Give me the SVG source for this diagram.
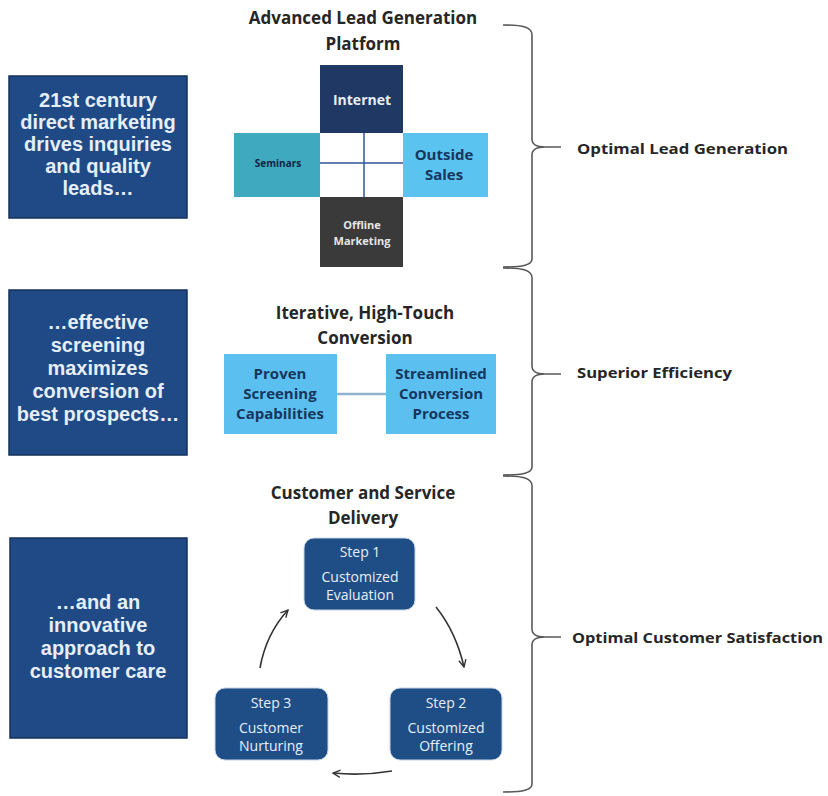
<svg xmlns="http://www.w3.org/2000/svg" width="828" height="796" viewBox="0 0 828 796">
<defs>
<style>
.lbox{fill:#1f4a85;stroke:#16325a;stroke-width:1.5}
.ltxt{font-family:"Liberation Sans",Arial,sans-serif;font-weight:bold;font-size:20px;fill:#e6eef8;text-anchor:middle}
.ttl{font-family:"Open Sans","Liberation Sans",sans-serif;font-weight:bold;font-size:17px;fill:#262626;text-anchor:middle}
.lbl{font-family:"Open Sans","Liberation Sans",sans-serif;font-weight:bold;font-size:15px;fill:#262626}
.brace{fill:none;stroke:#595959;stroke-width:1.6}
.step{fill:#1f4e87;stroke:#c9d6e6;stroke-width:1}
.stxt{font-family:"Open Sans","Liberation Sans",sans-serif;font-size:14px;fill:#e8eef6;text-anchor:middle}
.ptxt{font-family:"Open Sans","Liberation Sans",sans-serif;font-weight:bold;font-size:15px;fill:#17365d;text-anchor:middle}
.arr{fill:none;stroke:#333;stroke-width:1.6}
</style>
<marker id="ah" viewBox="0 0 10 10" refX="9" refY="5" markerWidth="9" markerHeight="9" orient="auto" markerUnits="userSpaceOnUse">
<path d="M1,1 L9,5 L1,9" fill="none" stroke="#333" stroke-width="1.5"/>
</marker>
</defs>
<rect width="828" height="796" fill="#ffffff"/>

<g id="box-lead">
<rect class="lbox" x="9" y="76" width="178" height="142"/>
<text class="ltxt" x="98" y="107">21st century</text>
<text class="ltxt" x="98" y="129">direct marketing</text>
<text class="ltxt" x="98" y="151">drives inquiries</text>
<text class="ltxt" x="98" y="173">and quality</text>
<text class="ltxt" x="98" y="195">leads…</text>
</g>
<g id="box-screening">
<rect class="lbox" x="9" y="290" width="178" height="165"/>
<text class="ltxt" x="98" y="329">…effective</text>
<text class="ltxt" x="98" y="352">screening</text>
<text class="ltxt" x="98" y="375">maximizes</text>
<text class="ltxt" x="98" y="398">conversion of</text>
<text class="ltxt" x="98" y="421">best prospects…</text>
</g>
<g id="box-care">
<rect class="lbox" x="10" y="538" width="177" height="200"/>
<text class="ltxt" x="98" y="609">…and an</text>
<text class="ltxt" x="98" y="632">innovative</text>
<text class="ltxt" x="98" y="655">approach to</text>
<text class="ltxt" x="98" y="678">customer care</text>
</g>

<g id="platform">
<text class="ttl" x="363" y="24">Advanced Lead Generation</text>
<text class="ttl" x="363" y="50">Platform</text>
<rect x="320" y="65" width="83" height="68" fill="#1f3864"/>
<text x="362" y="105" font-family="Open Sans,Liberation Sans,sans-serif" font-weight="bold" font-size="14" fill="#e8eef6" text-anchor="middle">Internet</text>
<rect x="234" y="133" width="86" height="64" fill="#3fa9c0"/>
<text x="278" y="167" font-family="Open Sans,Liberation Sans,sans-serif" font-weight="bold" font-size="10" fill="#10263f" text-anchor="middle">Seminars</text>
<rect x="403" y="133" width="85" height="64" fill="#5bc3f0"/>
<text x="444" y="160" font-family="Open Sans,Liberation Sans,sans-serif" font-weight="bold" font-size="15" fill="#17365d" text-anchor="middle">Outside</text>
<text x="444" y="180" font-family="Open Sans,Liberation Sans,sans-serif" font-weight="bold" font-size="15" fill="#17365d" text-anchor="middle">Sales</text>
<rect x="320" y="197" width="83" height="70" fill="#3a3a3a"/>
<text x="362" y="229" font-family="Open Sans,Liberation Sans,sans-serif" font-weight="bold" font-size="11" fill="#e6e6e6" text-anchor="middle">Offline</text>
<text x="362" y="245" font-family="Open Sans,Liberation Sans,sans-serif" font-weight="bold" font-size="11" fill="#e6e6e6" text-anchor="middle">Marketing</text>
<rect x="320" y="133" width="83" height="64" fill="#ffffff"/>
<line x1="364" y1="133" x2="364" y2="197" stroke="#2f5597" stroke-width="1.5"/>
<line x1="320" y1="163" x2="403" y2="163" stroke="#2f5597" stroke-width="1.5"/>
</g>

<g id="conversion">
<text class="ttl" x="365" y="319">Iterative, High-Touch</text>
<text class="ttl" x="365" y="344">Conversion</text>
</g>
<g id="proven">
<rect x="224" y="354" width="113" height="80" fill="#5bc0f0"/>
<text class="ptxt" x="280" y="379">Proven</text>
<text class="ptxt" x="280" y="399">Screening</text>
<text class="ptxt" x="280" y="419">Capabilities</text>
</g>
<g id="streamlined">
<rect x="386" y="354" width="110" height="80" fill="#5bc0f0"/>
<text class="ptxt" x="441" y="379">Streamlined</text>
<text class="ptxt" x="441" y="399">Conversion</text>
<text class="ptxt" x="441" y="419">Process</text>
</g>

<g id="delivery">
<text class="ttl" x="363" y="499">Customer and Service</text>
<text class="ttl" x="363" y="524">Delivery</text>
</g>
<g id="step1">
<rect class="step" x="304" y="538" width="111" height="72" rx="10"/>
<text class="stxt" x="360" y="557">Step 1</text>
<text class="stxt" x="360" y="582">Customized</text>
<text class="stxt" x="360" y="600">Evaluation</text>
</g>
<g id="step2">
<rect class="step" x="390" y="688" width="112" height="72" rx="10"/>
<text class="stxt" x="446" y="708">Step 2</text>
<text class="stxt" x="446" y="733">Customized</text>
<text class="stxt" x="446" y="751">Offering</text>
</g>
<g id="step3">
<rect class="step" x="215" y="688" width="113" height="72" rx="10"/>
<text class="stxt" x="271" y="708">Step 3</text>
<text class="stxt" x="271" y="733">Customer</text>
<text class="stxt" x="271" y="751">Nurturing</text>
</g>

<g id="connectors">
<line x1="337" y1="394" x2="386" y2="394" stroke="#8fb3cc" stroke-width="2.5"/>
<path class="arr" d="M436,607 Q456,632 464,667" marker-end="url(#ah)"/>
<path class="arr" d="M392,771 Q362,776 333,773" marker-end="url(#ah)"/>
<path class="arr" d="M260,668 Q266,634 288,610" marker-end="url(#ah)"/>
<path class="brace" d="M503,25 C523,25 532,27 532,35 L532,139 C532,144 536,147 545,147 L561,147 M545,147 C536,147 532,150 532,155 L532,259 C532,265 523,267 503,267"/>
<path class="brace" d="M503,268 C523,268 532,270 532,278 L532,366 C532,371 536,374 545,374 L561,374 M545,374 C536,374 532,377 532,382 L532,467 C532,473 523,475 503,475"/>
<path class="brace" d="M503,476 C523,476 532,478 532,486 L532,629 C532,634 536,637 545,637 L561,637 M545,637 C536,637 532,640 532,645 L532,784 C532,790 523,792 503,792"/>
</g>

<g id="outcomes">
<text class="lbl" x="577" y="154" textLength="211" lengthAdjust="spacingAndGlyphs">Optimal Lead Generation</text>
<text class="lbl" x="577" y="378" textLength="155" lengthAdjust="spacingAndGlyphs">Superior Efficiency</text>
<text class="lbl" x="572" y="643" textLength="251" lengthAdjust="spacingAndGlyphs">Optimal Customer Satisfaction</text>
</g>
</svg>
